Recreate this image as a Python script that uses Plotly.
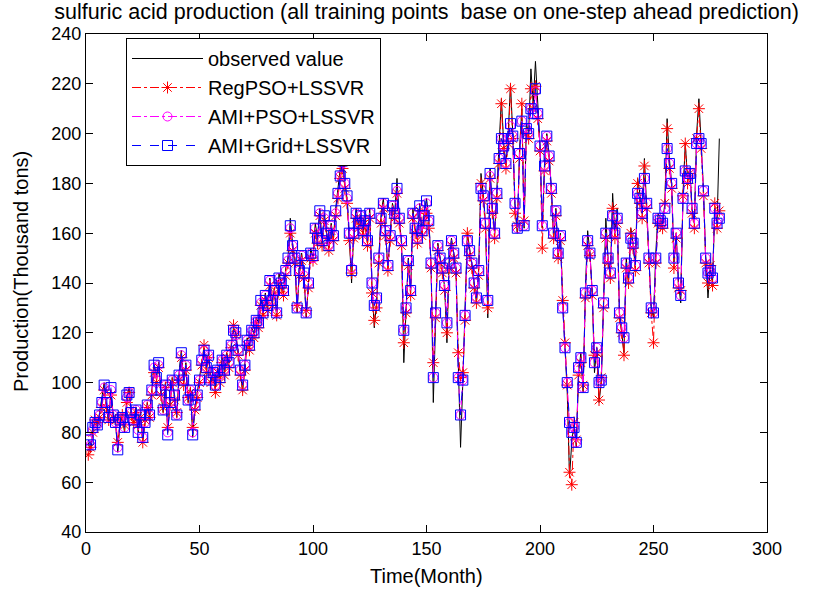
import plotly.graph_objects as go

months = list(range(1, 280))

observed = [
    76, 72, 80, 86, 82, 88, 94, 100, 90, 84,
    97, 86, 84, 72, 84, 86, 80, 94, 98, 88,
    84, 90, 80, 88, 76, 84, 92, 86, 98, 108,
    102, 108, 96, 88, 100, 80, 92, 102, 94, 86,
    104, 113, 100, 108, 92, 98, 78, 90, 96, 102,
    110, 114, 106, 112, 100, 104, 98, 106, 102, 110,
    104, 112, 108, 116, 122, 120, 112, 104, 96, 108,
    118, 114, 122, 120, 126, 124, 134, 128, 136, 130,
    142, 132, 138, 126, 144, 140, 136, 146, 150, 166,
    156, 150, 128, 146, 152, 144, 126, 140, 154, 150,
    164, 158, 170, 156, 168, 160, 154, 164, 158, 170,
    178, 186, 194, 180, 174, 158, 140, 162, 170, 164,
    168, 160, 166, 156, 170, 138, 122, 132, 150, 168,
    174, 160, 146, 160, 172, 168, 182, 166, 156, 108,
    128, 150, 136, 170, 162, 158, 172, 160, 168, 174,
    166, 148, 92, 130, 156, 150, 146, 138, 116, 150,
    158, 152, 146, 108, 74, 100, 128, 160, 154, 148,
    140, 132, 146, 184, 176, 164, 126, 186, 170, 160,
    178, 192, 214, 196, 188, 200, 220, 200, 170, 160,
    194, 210, 162, 204, 200, 226, 212, 229, 210, 196,
    162, 188, 200, 192, 178, 158, 170, 150, 160, 132,
    114, 96, 62, 76, 84, 74, 104, 112, 96, 138,
    161, 152, 136, 104, 114, 92, 100, 132, 166, 150,
    142, 176, 160, 170, 128, 120, 112, 150, 140, 162,
    156, 146, 182, 176, 168, 190, 172, 150, 130, 126,
    152, 168, 166, 164, 172, 206, 190, 180, 148, 160,
    140, 132, 176, 196, 182, 186, 170, 164, 200, 214,
    196, 178, 150, 134, 146, 140, 170, 164, 198,
]

regpso_lssvr = [
    71, 74, 80, 85, 84, 86, 90, 97, 90, 85,
    95, 86, 85, 76, 84, 87, 83, 92, 96, 87,
    84, 88, 83, 86, 76, 85, 90, 86, 95, 104,
    100, 106, 95, 90, 98, 82, 91, 100, 93, 88,
    101, 110, 99, 105, 94, 96, 82, 89, 94, 100,
    107, 115, 104, 110, 100, 102, 96, 104, 100, 108,
    103, 110, 106, 114, 123, 119, 111, 103, 97, 105,
    115, 113, 119, 118, 124, 122, 131, 127, 133, 129,
    139, 131, 136, 127, 140, 138, 135, 143, 148, 160,
    153, 148, 131, 143, 149, 142, 129, 138, 150, 149,
    160, 156, 167, 155, 165, 158, 153, 161, 157, 167,
    174, 182, 186, 178, 172, 157, 144, 158, 166, 162,
    165, 159, 163, 155, 166, 136, 125, 130, 148, 164,
    170, 159, 145, 157, 169, 166, 176, 164, 155, 116,
    128, 147, 135, 166, 160, 156, 169, 159, 165, 168,
    162, 146, 108, 126, 153, 148, 144, 137, 120, 146,
    155, 150, 144, 112, 102, 104, 125, 160, 151, 146,
    138, 132, 143, 180, 173, 162, 130, 182, 168, 158,
    174, 188, 212, 194, 186, 196, 218, 198, 168, 163,
    190, 212, 165, 200, 198, 218, 210, 219, 206, 193,
    154, 185, 197, 189, 176, 158, 167, 150, 157, 133,
    116, 99, 64, 59, 84, 77, 103, 108, 99, 134,
    155, 151, 135, 111, 112, 93, 102, 130, 158, 148,
    142, 170, 158, 164, 126, 120, 111, 146, 140, 160,
    154, 145, 180, 172, 166, 187, 170, 148, 128, 116,
    148, 164, 163, 162, 172, 202, 186, 178, 146, 158,
    138, 137, 175, 196, 180, 184, 168, 162, 198, 210,
    194, 175, 148, 140, 147, 139, 172, 162, 169,
]

ami_pso_lssvr = [
    77, 75, 81, 84, 83, 87, 92, 98, 92, 86,
    97, 87, 84, 74, 85, 86, 82, 94, 96, 88,
    85, 89, 81, 87, 78, 84, 91, 87, 97, 106,
    101, 107, 97, 89, 99, 80, 92, 101, 95, 87,
    103, 111, 101, 107, 93, 97, 80, 91, 95, 101,
    109, 113, 106, 111, 101, 104, 99, 105, 103, 109,
    105, 111, 108, 115, 121, 119, 113, 105, 99, 107,
    117, 115, 121, 120, 125, 124, 132, 128, 135, 131,
    141, 133, 137, 128, 142, 140, 137, 145, 149, 162,
    155, 150, 130, 145, 151, 143, 128, 140, 152, 150,
    162, 158, 168, 157, 166, 160, 155, 163, 159, 168,
    176, 183, 188, 180, 174, 160, 146, 160, 168, 164,
    167, 161, 165, 157, 168, 140, 131, 134, 150, 166,
    172, 161, 147, 159, 171, 168, 177, 166, 157, 121,
    130, 149, 137, 168, 162, 158, 170, 161, 167, 172,
    165, 148, 102, 128, 155, 150, 146, 139, 124, 148,
    157, 152, 146, 102, 87, 101, 127, 157, 153, 148,
    140, 134, 145, 178, 175, 164, 133, 183, 170, 160,
    176, 190, 198, 195, 188, 198, 203, 199, 172, 162,
    192, 205, 163, 202, 200, 210, 208, 217, 208, 195,
    163, 187, 199, 191, 178, 160, 169, 152, 159, 130,
    114, 100, 84, 80, 82, 76, 106, 110, 98, 136,
    157, 152, 137, 108, 114, 100, 101, 132, 160, 150,
    144, 167, 160, 166, 128, 122, 118, 148, 142, 158,
    156, 147, 176, 174, 168, 182, 172, 150, 130, 128,
    150, 166, 165, 164, 170, 194, 188, 180, 150, 160,
    140, 135, 174, 185, 182, 184, 170, 164, 196, 198,
    196, 177, 150, 144, 145, 142, 170, 164, 166,
]

ami_grid_lssvr = [
    77, 75, 82, 84, 83, 87, 92, 99, 92, 86,
    98, 87, 84, 73, 85, 86, 82, 95, 96, 88,
    85, 89, 80, 87, 78, 84, 91, 87, 97, 107,
    102, 108, 97, 89, 99, 79, 92, 101, 95, 87,
    103, 112, 101, 107, 93, 97, 79, 91, 95, 101,
    109, 113, 106, 111, 101, 104, 99, 105, 102, 109,
    105, 111, 108, 115, 121, 120, 113, 105, 99, 107,
    117, 115, 121, 120, 125, 124, 133, 128, 135, 131,
    141, 133, 137, 128, 142, 140, 137, 145, 150, 163,
    155, 150, 130, 145, 151, 144, 128, 140, 152, 151,
    162, 158, 169, 157, 167, 160, 155, 163, 159, 169,
    176, 183, 189, 180, 175, 160, 145, 160, 168, 164,
    167, 161, 165, 157, 168, 140, 131, 134, 150, 166,
    172, 161, 147, 159, 171, 168, 178, 166, 157, 121,
    130, 149, 137, 168, 162, 158, 171, 161, 167, 173,
    165, 148, 102, 128, 155, 150, 146, 139, 124, 148,
    157, 152, 146, 102, 87, 101, 127, 157, 153, 148,
    140, 134, 145, 178, 175, 164, 133, 184, 170, 160,
    176, 190, 198, 195, 188, 198, 204, 199, 172, 162,
    192, 205, 163, 202, 200, 210, 208, 218, 208, 195,
    163, 187, 199, 191, 178, 160, 169, 152, 159, 130,
    114, 100, 84, 80, 82, 76, 106, 110, 98, 136,
    157, 152, 137, 108, 114, 100, 101, 132, 160, 150,
    144, 167, 160, 166, 128, 122, 118, 148, 142, 158,
    156, 147, 176, 174, 168, 182, 172, 150, 130, 128,
    150, 166, 165, 164, 170, 194, 188, 180, 150, 160,
    140, 135, 174, 185, 182, 184, 170, 164, 196, 198,
    196, 177, 150, 144, 145, 142, 170, 164, 166,
]

x_ticks = [0, 50, 100, 150, 200, 250, 300]
y_ticks = [40, 60, 80, 100, 120, 140, 160, 180, 200, 220, 240]

FONT = "Liberation Sans, Arial, sans-serif"

fig = go.Figure()
fig.add_trace(go.Scatter(
    x=months, y=observed, mode="lines", name="observed value",
    line=dict(color="black", width=1),
))
fig.add_trace(go.Scatter(
    x=months, y=regpso_lssvr, mode="lines+markers", name="RegPSO+LSSVR",
    line=dict(color="red", width=1, dash="dashdot"),
    marker=dict(symbol="asterisk-open", size=10, color="red",
                line=dict(color="red", width=1)),
))
fig.add_trace(go.Scatter(
    x=months, y=ami_pso_lssvr, mode="lines+markers", name="AMI+PSO+LSSVR",
    line=dict(color="magenta", width=1, dash="dashdot"),
    marker=dict(symbol="circle-open", size=9, color="magenta",
                line=dict(color="magenta", width=1)),
))
fig.add_trace(go.Scatter(
    x=months, y=ami_grid_lssvr, mode="lines+markers", name="AMI+Grid+LSSVR",
    line=dict(color="blue", width=1, dash="dash"),
    marker=dict(symbol="square-open", size=10, color="blue",
                line=dict(color="blue", width=1)),
))

axis_common = dict(
    showline=True, linecolor="black", linewidth=1, mirror="ticks",
    ticks="inside", ticklen=7, tickcolor="black", tickwidth=1,
    showgrid=False, zeroline=False,
    tickfont=dict(family=FONT, size=18, color="black"),
)

fig.update_layout(
    width=815, height=592,
    paper_bgcolor="white", plot_bgcolor="white",
    margin=dict(l=86, r=48, t=34, b=60, autoexpand=False),
    title=dict(
        text="sulfuric acid production (all training points  base on one-step ahead prediction)",
        x=0.5, xref="paper", y=1 - 11 / 592, yref="container",
        xanchor="center", yanchor="middle",
        font=dict(family=FONT, size=21.5, color="black"),
    ),
    xaxis=dict(range=[0, 300], tickvals=x_ticks, ticktext=[str(v) for v in x_ticks],
               **axis_common),
    yaxis=dict(range=[40, 240], tickvals=y_ticks, ticktext=[str(v) for v in y_ticks],
               **axis_common),
    legend=dict(
        x=40 / 681, y=(532 - 38) / 498, xanchor="left", yanchor="top",
        bgcolor="white", bordercolor="black", borderwidth=1,
        font=dict(family=FONT, size=20, color="black"),
        itemwidth=71, tracegroupgap=0,
    ),
    showlegend=True,
    annotations=[
        dict(text="Time(Month)", x=0.5, xref="paper", y=-44 / 498, yref="paper",
             xanchor="center", yanchor="middle", showarrow=False,
             font=dict(family=FONT, size=20, color="black")),
        dict(text="Production(Thousand tons)", x=-65 / 681, xref="paper",
             y=(532 - 272) / 498, yref="paper", textangle=-90,
             xanchor="center", yanchor="middle", showarrow=False,
             font=dict(family=FONT, size=20, color="black")),
    ],
)

fig.write_html("out.html")
